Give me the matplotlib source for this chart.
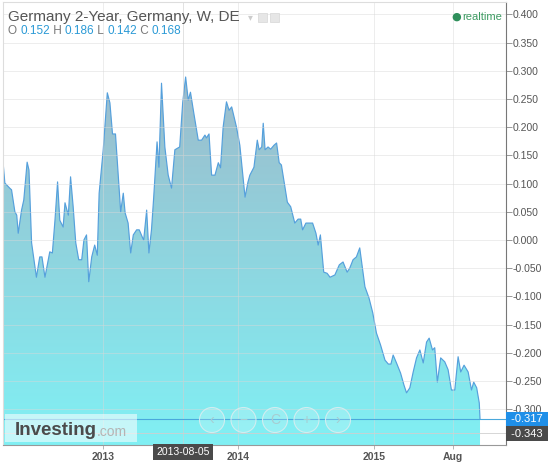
import numpy as np
import matplotlib
matplotlib.use("Agg")
import matplotlib.pyplot as plt
import matplotlib.dates as mdates
from matplotlib.colors import LinearSegmentedColormap
from matplotlib.patches import Circle, Rectangle

plt.rcParams['font.family'] = ['Liberation Sans', 'DejaVu Sans']

# weekly yield (days counted from 2013-01-01)
days = [-269, -264, -251, -246, -237, -232, -228, -219, -213, -204, -199, -192,
        -179, -170, -164, -156, -143, -136, -129, -122, -116, -107, -102, -93,
        -87, -80, -73, -65, -57, -51, -44, -38, -30, -22, -15, -10, 1, 12, 19,
        26, 34, 41, 48, 55, 60, 68, 75, 82, 91, 98, 107, 110, 118, 124, 131,
        137, 146, 151, 158, 167, 176, 185, 194, 207, 215, 223, 230, 236, 245,
        257, 266, 275, 279, 286, 293, 302, 311, 317, 324, 333, 340, 347, 360,
        369, 383, 391, 396, 407, 416, 421, 428, 432, 437, 445, 452, 461, 468,
        475, 481, 497, 506, 517, 526, 533, 538, 547, 558, 565, 574, 580, 586,
        595, 604, 612, 625, 637, 647, 658, 665, 674, 683, 692, 699, 706, 717,
        727, 737, 748, 760, 769, 776, 782, 791, 802, 811, 818, 827, 836, 845,
        854, 863, 872, 879, 888, 894, 901, 910, 921, 930, 939, 948, 957, 964,
        973, 984, 993, 999, 1007, 1014, 1016]
yields = [0.139, 0.101, 0.092, 0.089, 0.050, 0.044, 0.012, 0.053, 0.071, 0.138,
          0.124, -0.005, -0.066, -0.030, -0.030, -0.066, -0.021, -0.023, 0.035,
          0.103, 0.035, 0.023, 0.066, 0.044, 0.112, 0.059, -0.005, -0.035,
          -0.035, 0.000, 0.009, -0.074, -0.030, -0.009, -0.027, 0.083, 0.160,
          0.261, 0.243, 0.188, 0.188, 0.119, 0.050, 0.083, 0.048, 0.030,
          -0.023, 0.009, 0.018, 0.018, 0.004, 0.000, 0.053, -0.023, 0.018,
          0.076, 0.174, 0.129, 0.278, 0.165, 0.115, 0.092, 0.160, 0.165, 0.243,
          0.289, 0.248, 0.262, 0.225, 0.177, 0.177, 0.186, 0.181, 0.188, 0.115,
          0.115, 0.137, 0.128, 0.200, 0.245, 0.230, 0.236, 0.200, 0.168, 0.076,
          0.103, 0.115, 0.129, 0.177, 0.160, 0.165, 0.207, 0.160, 0.165, 0.161,
          0.168, 0.172, 0.137, 0.133, 0.067, 0.059, 0.030, 0.037, 0.037, 0.018,
          0.030, 0.030, 0.030, 0.012, -0.009, 0.009, -0.057, -0.059, -0.066,
          -0.062, -0.044, -0.039, -0.057, -0.050, -0.035, -0.030, -0.014,
          -0.048, -0.083, -0.103, -0.129, -0.165, -0.186, -0.213, -0.220,
          -0.220, -0.204, -0.218, -0.236, -0.257, -0.271, -0.262, -0.234,
          -0.209, -0.195, -0.218, -0.181, -0.174, -0.195, -0.191, -0.252,
          -0.209, -0.216, -0.230, -0.266, -0.266, -0.207, -0.234, -0.222,
          -0.234, -0.266, -0.252, -0.262, -0.289, -0.317]

y_ticks = [0.40, 0.35, 0.30, 0.25, 0.20, 0.15, 0.10, 0.05, 0.0, -0.05, -0.10,
           -0.15, -0.20, -0.25, -0.30]
x_ticks = ['2013-01-01', '2014-01-01', '2015-01-01', '2015-08-01']
x_labels = ['2013', '2014', '2015', 'Aug']
last_price = -0.317
cursor_price = -0.343
cursor_date = '2013-08-05'
ohlc = [('O', '0.152'), ('H', '0.186'), ('L', '0.142'), ('C', '0.168')]

base = np.datetime64('2013-01-01')
dates = base + np.array(days).astype('timedelta64[D]')
xd = mdates.date2num(dates)

fig = plt.figure(figsize=(5.5, 4.65), dpi=100)
ax = fig.add_axes([3 / 550, 20 / 465, 503 / 550, 443 / 465])
ymin, ymax = -0.3635, 0.422
x0 = mdates.date2num(base - np.timedelta64(269, 'D'))
x1 = mdates.date2num(base + np.timedelta64(1086, 'D'))
ax.set_xlim(x0, x1)
ax.set_ylim(ymin, ymax)

# gradient fill under the curve
cmap = LinearSegmentedColormap.from_list('g', ['#80f0f4', '#9dbbcb'])
poly = ax.fill_between(xd, yields, ymin, color='none', lw=0)
grad = np.linspace(0, 1, 256).reshape(-1, 1)
im = ax.imshow(grad, cmap=cmap, aspect='auto', origin='lower',
               extent=[x0, x1, ymin, 0.29], zorder=1)
im.set_clip_path(poly.get_paths()[0], transform=ax.transData)
ax.plot(xd, yields, color='#55a0dc', lw=0.85, zorder=2)

# grid
for v in y_ticks:
    ax.axhline(v, color='#d8d8d8', lw=0.6, alpha=0.55, zorder=3)
for d in x_ticks:
    ax.axvline(mdates.datestr2num(d), color='#d8d8d8', lw=0.6, alpha=0.55, zorder=3)
ax.axvline(mdates.datestr2num(cursor_date), color='#cfcfcf', lw=0.6, alpha=0.7, zorder=3)
ax.axhline(cursor_price, color='#d0d0d0', lw=0.6, zorder=3)
ax.axhline(last_price, color='#4aa8dc', lw=0.8, zorder=3)

ax.yaxis.tick_right()
ax.set_yticks(y_ticks)
ax.set_yticklabels(['%.3f' % v for v in y_ticks])
ax.tick_params(axis='y', length=4, width=0.6, color='#888888', labelsize=7.5,
               labelcolor='#555555', pad=1)
ax.set_xticks([mdates.datestr2num(d) for d in x_ticks])
ax.set_xticklabels(x_labels, fontweight='bold')
ax.tick_params(axis='x', length=3, width=0.6, color='#aaaaaa', labelsize=7.5,
               labelcolor='#555555', pad=2)
for s in ['left', 'top']:
    ax.spines[s].set_color('#dddddd')
    ax.spines[s].set_linewidth(0.8)
ax.spines['right'].set_color('#777777')
ax.spines['bottom'].set_color('#999999')
for s in ax.spines.values():
    s.set_zorder(5)

# header
fig.text(8 / 550, 1 - 17 / 465, 'Germany 2-Year, Germany, W, DE', fontsize=11,
         color='#555555', va='center')
fig.text(248 / 550, 1 - 17 / 465, '\u25be', fontsize=7, color='#cccccc', va='center',
         family='DejaVu Sans')
for xi in [258, 270]:
    fig.add_artist(Rectangle((xi / 100, (465 - 22) / 100), 0.09, 0.09,
                             transform=fig.dpi_scale_trans, facecolor='#e6e6e6',
                             edgecolor='#d6d6d6', lw=0.5))
prev = None
for k, v in ohlc:
    if prev is None:
        prev = fig.text(8 / 550, 1 - 31 / 465, k + ' ', fontsize=8.5, color='#777777',
                        va='center')
    else:
        prev = ax.annotate(' ' + k + ' ', xy=(1, 0), xycoords=prev, va='bottom',
                           fontsize=8.5, color='#777777', annotation_clip=False)
    prev = ax.annotate(v, xy=(1, 0), xycoords=prev, va='bottom', fontsize=8.5,
                       color='#2b9ad6', annotation_clip=False)

fig.text(456 / 550, 1 - 17 / 465, '\u25cf', fontsize=8, color='#2f8f5b', va='center',
         ha='center', family='DejaVu Sans')
fig.text(462 / 550, 1 - 17 / 465, 'realtime', fontsize=8, color='#3d9b62', va='center')

# price labels on the axis
fig.text(508 / 550, 1 - 419 / 465, ' %.3f ' % last_price, fontsize=8, color='white',
         va='center', bbox=dict(boxstyle='square,pad=0.2', fc='#1f8fe8', ec='none'))
fig.text(508 / 550, 1 - 433.5 / 465, ' %.3f ' % cursor_price, fontsize=8, color='white',
         va='center', bbox=dict(boxstyle='square,pad=0.2', fc='#4a4a4a', ec='none'))
cx = (mdates.datestr2num(cursor_date) - x0) / (x1 - x0)
fig.text((3 + cx * 503) / 550, 1 - 452 / 465, cursor_date, fontsize=7.5, color='white',
         va='center', ha='center',
         bbox=dict(boxstyle='square,pad=0.3', fc='#4a4a4a', ec='none'))

# logo
fig.add_artist(Rectangle((5 / 100, (465 - 442) / 100), 1.32, 0.28,
                         transform=fig.dpi_scale_trans, facecolor='white', alpha=0.55,
                         edgecolor='none'))
logo = fig.text(15 / 550, 1 - 430 / 465, 'Investing', fontsize=13.5, fontweight='bold',
                color='#4b4b4b', va='center')
ax.annotate('.com', xy=(1, 0), xycoords=logo, va='bottom', fontsize=10,
            color='#5a5a5a', annotation_clip=False)

# navigation buttons
for cxp, sym in zip([212, 243.5, 275, 306.5, 338], ['\u2039', '\u2212', 'C', '+', '\u203a']):
    fig.add_artist(Circle((cxp / 100, (465 - 420) / 100), 0.125,
                          transform=fig.dpi_scale_trans, facecolor=(1, 1, 1, 0.18),
                          edgecolor=(0.85, 0.93, 0.94, 0.9), lw=0.8))
    fig.text(cxp / 550, 1 - 420 / 465, sym, fontsize=10, color=(0.66, 0.8, 0.82),
             ha='center', va='center')

fig.savefig('out.png', dpi=100)
